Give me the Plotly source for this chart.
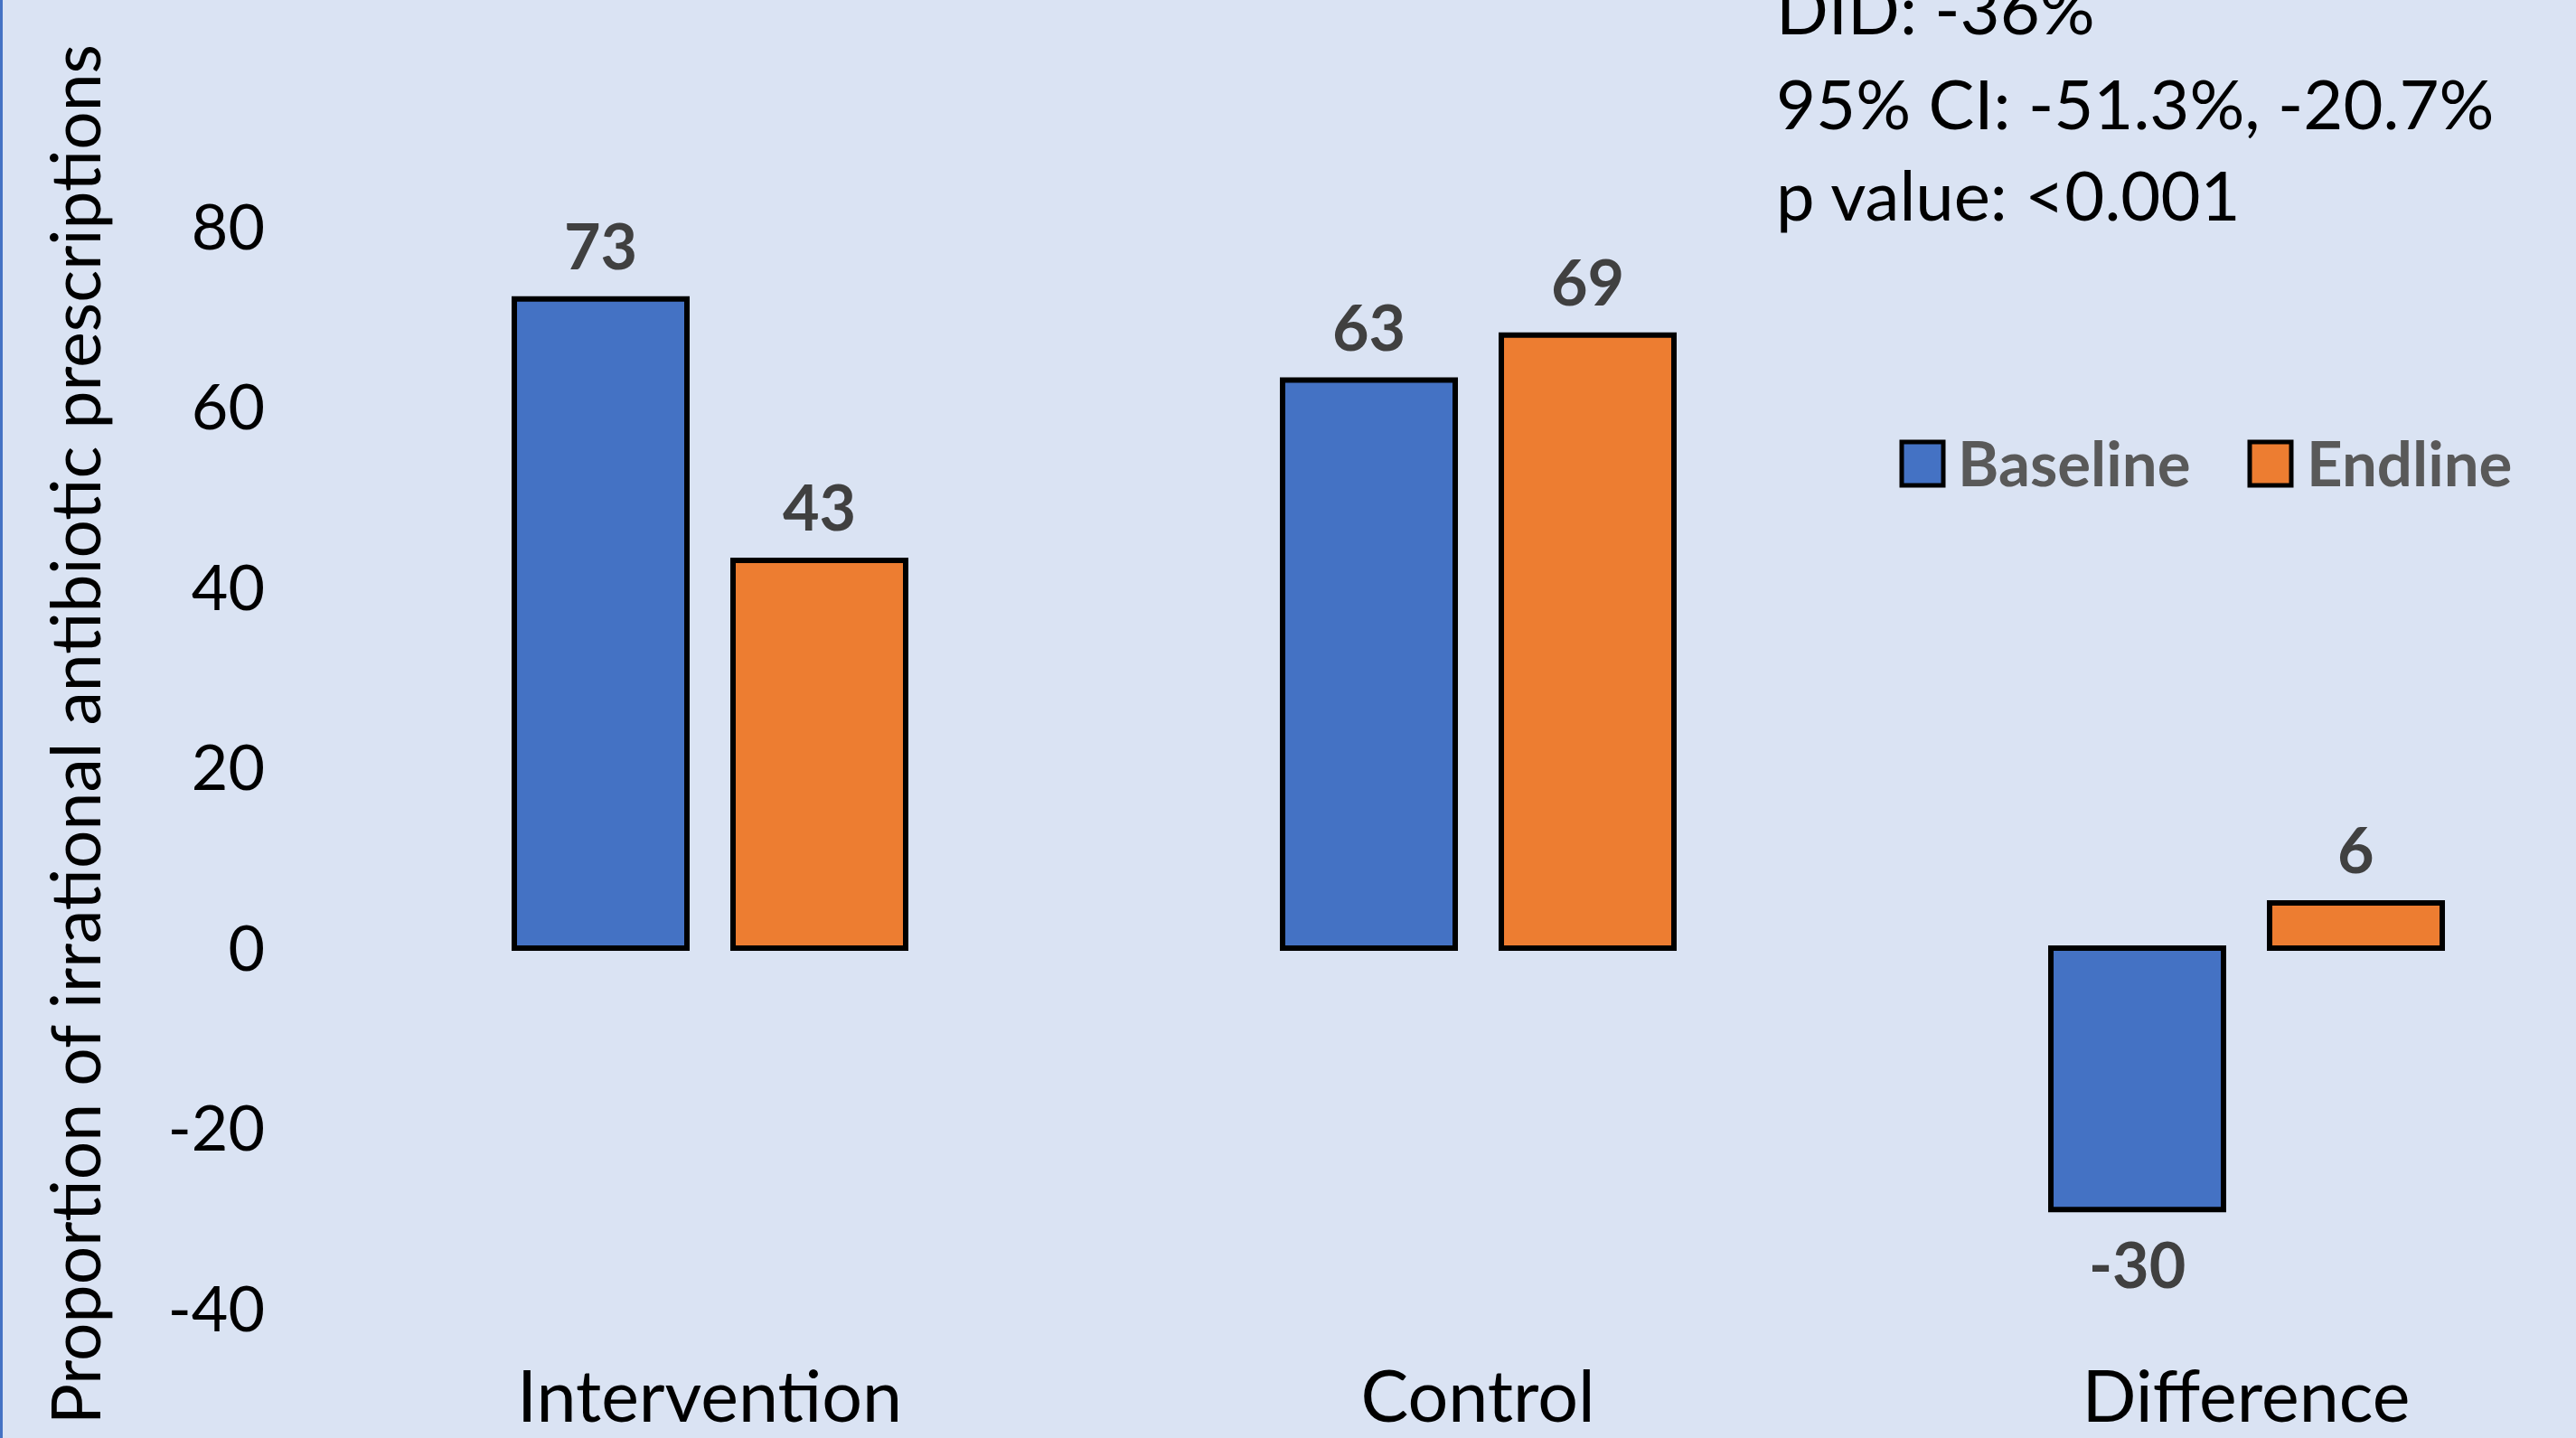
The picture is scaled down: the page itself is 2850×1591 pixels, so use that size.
import plotly.graph_objects as go

# ---------------- data ----------------
categories = ["Intervention", "Control", "Difference"]
series_names = ["Baseline", "Endline"]
baseline = [72, 63, -29]
endline = [43, 68, 5]
baseline_labels = ["73", "63", "-30"]
endline_labels = ["43", "69", "6"]
y_tick_values = [-40, -20, 0, 20, 40, 60, 80]
y_tick_text = ["-40", "-20", "0", "20", "40", "60", "80"]
y_title = "Proportion of irrational antibiotic prescriptions"
stats_lines = ["DID: -36%", "95% CI: -51.3%, -20.7%", "p value: <0.001"]

# ---------------- styling ----------------
W, H = 2850, 1591
ML, MB = 300, 110
PW, PH = W - ML, H - MB
ZERO_Y = 1049          # pixel row of value 0
PX_PER_UNIT = 9.975
CAT_SPACING = 850      # pixels between category centres
CAT0_X = 785           # pixel column of first category centre
BG = "#DAE3F3"
COLORS = ["#4472C4", "#ED7D31"]
FONT = "Lato"


def px_x(X):
    return (X - ML) / PW


def px_y(Y):
    return (PH - Y) / PH


bar_width = 0.2247
offsets = [-0.2541, 0.0306]

fig = go.Figure()
annotations = []
shapes = []

for name, vals, labels, color, off in zip(
    series_names, [baseline, endline], [baseline_labels, endline_labels], COLORS, offsets
):
    fig.add_trace(
        go.Bar(
            name=name,
            x=categories,
            y=vals,
            width=bar_width,
            offset=off,
            marker=dict(color=color, line=dict(color="black", width=6)),
            showlegend=False,
            cliponaxis=False,
        )
    )
    # data labels placed relative to each bar end
    centre_shift = (off + bar_width / 2) * CAT_SPACING
    for cat, v, lab in zip(categories, vals, labels):
        pos = v >= 0
        annotations.append(
            dict(
                xref="x", yref="y", x=cat, y=v,
                xshift=centre_shift,
                yshift=16 if pos else -16,
                yanchor="bottom" if pos else "top",
                xanchor="center",
                showarrow=False, text=lab,
                font=dict(family=FONT, size=70, color="#404040", weight="bold"),
            )
        )

# manual legend (large square swatches)
legend_items = [(2104, 2164), (2489, 2550)]
for (sx, tx), name, color in zip(legend_items, series_names, COLORS):
    shapes.append(
        dict(
            type="rect", xref="paper", yref="paper",
            x0=px_x(sx), x1=px_x(sx + 46), y0=px_y(537), y1=px_y(489),
            fillcolor=color, line=dict(color="black", width=5), layer="above",
        )
    )
    annotations.append(
        dict(
            xref="paper", yref="paper", x=px_x(tx), y=px_y(511),
            xanchor="left", yanchor="middle", showarrow=False, text=name,
            font=dict(family=FONT, size=69, color="#595959", weight="bold"),
        )
    )

# statistics text
for line, yc in zip(stats_lines, [8, 113, 215]):
    annotations.append(
        dict(
            xref="paper", yref="paper", x=px_x(1963), y=px_y(yc),
            xanchor="left", yanchor="middle", showarrow=False, text=line,
            font=dict(family=FONT, size=76, color="black"),
        )
    )

# y-axis title
annotations.append(
    dict(
        xref="paper", yref="paper", x=px_x(82), y=px_y(813),
        xanchor="center", yanchor="middle", showarrow=False, textangle=-90,
        text=y_title, font=dict(family=FONT, size=75, color="black"),
    )
)

# thin border on the left edge
shapes.append(
    dict(
        type="line", xref="paper", yref="paper",
        x0=px_x(1.5), x1=px_x(1.5), y0=px_y(H), y1=px_y(0),
        line=dict(color="#4472C4", width=3),
    )
)

fig.update_layout(
    width=W, height=H,
    margin=dict(l=ML, r=0, t=0, b=MB, autoexpand=False),
    paper_bgcolor=BG, plot_bgcolor=BG,
    barmode="overlay",
    showlegend=False,
    font=dict(family=FONT, color="black"),
    shapes=shapes,
    annotations=annotations,
    xaxis=dict(
        range=[(ML - CAT0_X) / CAT_SPACING, (W - CAT0_X) / CAT_SPACING],
        showgrid=False, zeroline=False, showline=False, ticks="",
        tickfont=dict(family=FONT, size=79, color="black"),
        ticklabelstandoff=12,
        automargin=False,
        fixedrange=True,
    ),
    yaxis=dict(
        range=[(ZERO_Y - PH) / PX_PER_UNIT, ZERO_Y / PX_PER_UNIT],
        tickvals=y_tick_values,
        ticktext=y_tick_text,
        showgrid=False, zeroline=False, showline=False, ticks="",
        tickfont=dict(family=FONT, size=70, color="black"),
        ticklabelstandoff=6,
        automargin=False,
        fixedrange=True,
    ),
)

fig.write_html("out.html")
